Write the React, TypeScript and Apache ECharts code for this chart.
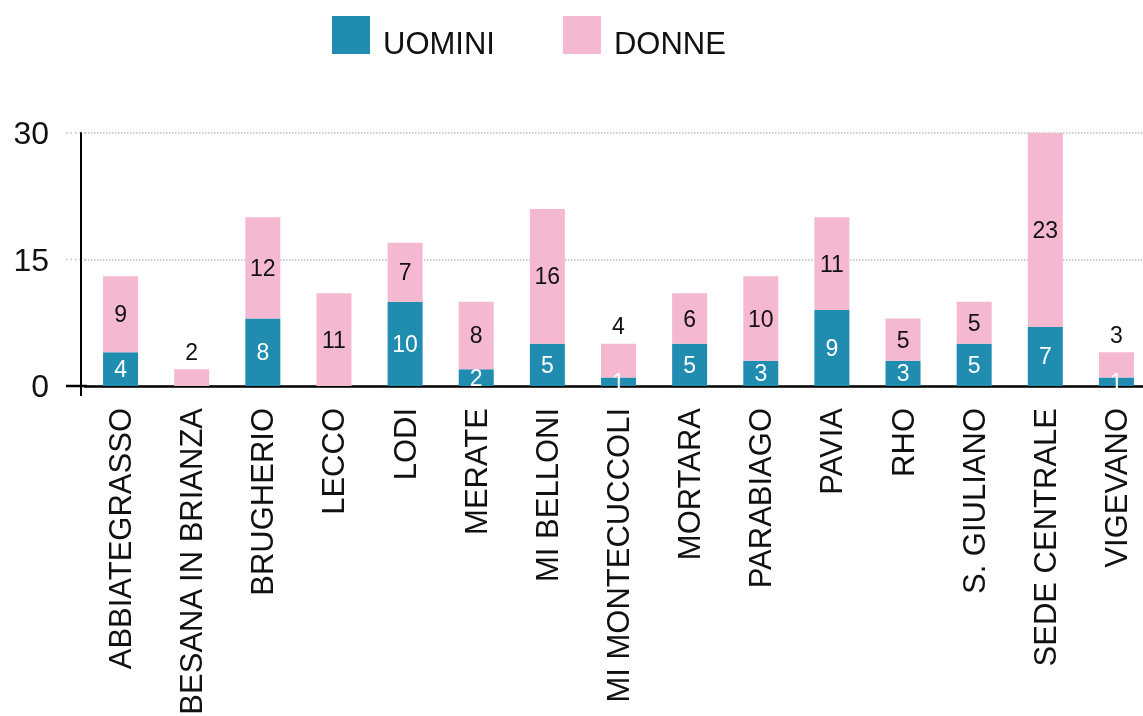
import { useEffect, useRef } from "react";
import * as echarts from "echarts";

const categories = [
  "ABBIATEGRASSO",
  "BESANA IN BRIANZA",
  "BRUGHERIO",
  "LECCO",
  "LODI",
  "MERATE",
  "MI BELLONI",
  "MI MONTECUCCOLI",
  "MORTARA",
  "PARABIAGO",
  "PAVIA",
  "RHO",
  "S. GIULIANO",
  "SEDE CENTRALE",
  "VIGEVANO",
];
const uomini = [4, 0, 8, 0, 10, 2, 5, 1, 5, 3, 9, 3, 5, 7, 1];
const donne = [9, 2, 12, 11, 7, 8, 16, 4, 6, 10, 11, 5, 5, 23, 3];
const seriesNames = ["UOMINI", "DONNE"];
const yMax = 30;
const yInterval = 15;

const BLUE = "#1f8cb0";
const PINK = "#f5b8d1";
const FONT = "'Liberation Sans', 'Helvetica Neue', Arial, sans-serif";

export default function App() {
  const ref = useRef<HTMLDivElement>(null);
  useEffect(() => {
    if (!ref.current) return;
    const chart = echarts.init(ref.current, null, { renderer: "svg" });
    const gridLeft = 85;
    const axisX = 81;
    chart.setOption({
      animation: false,
      textStyle: { fontFamily: FONT },
      legend: {
        left: 327,
        top: 11,
        itemWidth: 38,
        itemHeight: 38,
        itemGap: 68,
        icon: "rect",
        formatter: "{t|{name}}",
        textStyle: {
          fontFamily: FONT,
          fontSize: 31,
          color: "#111",
          padding: [0, 0, 0, 8],
          rich: {
            t: {
              fontFamily: FONT,
              fontSize: 31,
              color: "#111",
              lineHeight: 48,
              verticalAlign: "bottom",
            },
          },
        },
        data: seriesNames,
      },
      grid: {
        left: gridLeft,
        right: -9,
        top: 133,
        bottom: 330,
        containLabel: false,
        outerBoundsMode: "none",
      },
      xAxis: {
        type: "category",
        data: categories,
        axisLine: { lineStyle: { color: "#000", width: 2.5 } },
        axisTick: { show: false },
        axisLabel: {
          rotate: 90,
          margin: 22,
          fontSize: 31,
          color: "#111",
          fontFamily: FONT,
          interval: 0,
        },
      },
      yAxis: {
        type: "value",
        min: 0,
        max: yMax,
        interval: yInterval,
        offset: gridLeft - axisX,
        axisLine: { show: true, lineStyle: { color: "#000", width: 2 } },
        axisTick: { show: false },
        axisLabel: { margin: 32, fontSize: 32, color: "#111", fontFamily: FONT },
        splitLine: {
          show: true,
          lineStyle: { color: "#bdbdbd", type: "dotted", width: 1.5 },
        },
      },
      series: [
        {
          name: seriesNames[0],
          type: "bar",
          stack: "tot",
          barWidth: 35,
          itemStyle: { color: BLUE },
          label: {
            show: true,
            position: "inside",
            color: "#fff",
            fontSize: 23,
            fontFamily: FONT,
            formatter: (p: any) => (p.value ? String(p.value) : ""),
          },
          data: uomini,
        },
        {
          name: seriesNames[1],
          type: "bar",
          stack: "tot",
          barWidth: 35,
          itemStyle: { color: PINK },
          label: {
            show: true,
            position: "inside",
            color: "#111",
            fontSize: 23,
            fontFamily: FONT,
          },
          data: donne.map((v) =>
            v <= 4 ? { value: v, label: { position: "top", distance: 6 } } : v
          ),
        },
      ],
    });

    const yZero = chart.convertToPixel({ yAxisIndex: 0 }, 0) as number;
    const graphics: any[] = [
      {
        type: "line",
        shape: { x1: 66, y1: yZero, x2: gridLeft + 2, y2: yZero },
        style: { stroke: "#000", lineWidth: 2.5 },
      },
      {
        type: "line",
        shape: { x1: axisX, y1: yZero, x2: axisX, y2: yZero + 10 },
        style: { stroke: "#000", lineWidth: 2 },
      },
    ];
    for (let v = yInterval; v <= yMax; v += yInterval) {
      const y = chart.convertToPixel({ yAxisIndex: 0 }, v) as number;
      graphics.push({
        type: "line",
        shape: { x1: 66, y1: y, x2: gridLeft, y2: y },
        style: { stroke: "#bdbdbd", lineWidth: 1.5, lineDash: [1.5, 3] },
      });
    }
    chart.setOption({ graphic: graphics });

    return () => chart.dispose();
  }, []);
  return (
    <div
      ref={ref}
      style={{ position: "fixed", left: 0, top: 0, width: 1143, height: 716 }}
    />
  );
}
